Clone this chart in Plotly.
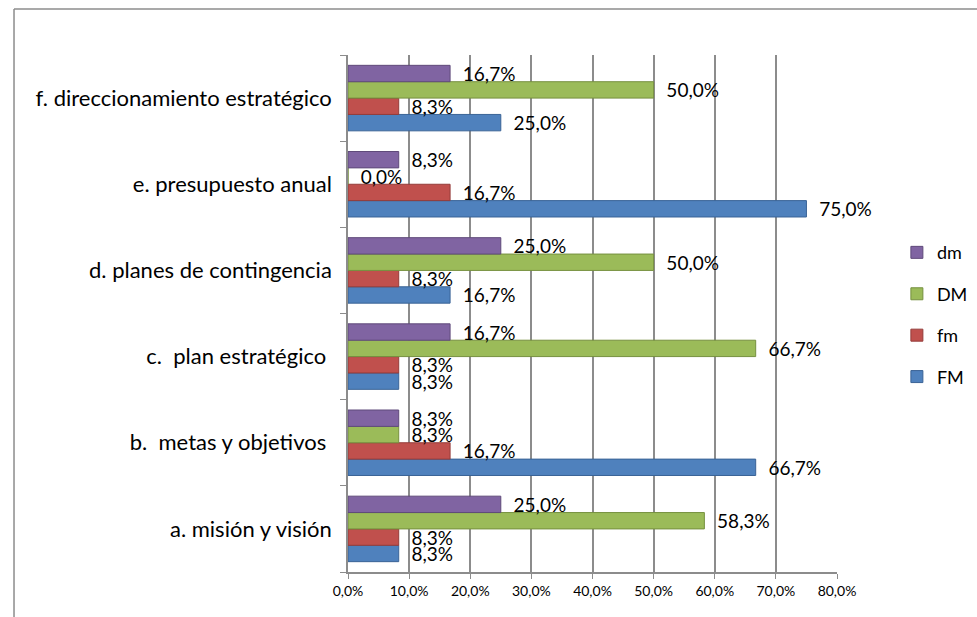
import plotly.graph_objects as go

# Survey results per planning item (percent of respondents)
categories = [
    "a. misión y visión",
    "b.  metas y objetivos ",
    "c.  plan estratégico ",
    "d. planes de contingencia",
    "e. presupuesto anual",
    "f. direccionamiento estratégico",
]
fm_upper = [8.3, 66.7, 8.3, 16.7, 75.0, 25.0]   # FM
fm_lower = [8.3, 16.7, 8.3, 8.3, 16.7, 8.3]     # fm
dm_upper = [58.3, 8.3, 66.7, 50.0, 0.0, 50.0]   # DM
dm_lower = [25.0, 8.3, 16.7, 25.0, 8.3, 16.7]   # dm

# name, values, fill, edge, legend rank (dm listed first in the legend)
series = [
    ("FM", fm_upper, "#4F81BD", "#3A6396", 4),
    ("fm", fm_lower, "#C0504D", "#943C3A", 3),
    ("DM", dm_upper, "#9BBB59", "#76903F", 2),
    ("dm", dm_lower, "#8064A2", "#5F4A7A", 1),
]

x_ticks = [0, 10, 20, 30, 40, 50, 60, 70, 80]
x_tick_text = [f"{v:.1f}%".replace(".", ",") for v in x_ticks]

FONT = "Lato, 'Open Sans', sans-serif"

fig = go.Figure()
for name, vals, color, edge, rank in series:
    fig.add_trace(go.Bar(
        name=name,
        y=categories,
        x=vals,
        orientation="h",
        legendgroup=name,
        legendrank=rank,
        marker=dict(color=color, line=dict(color=edge, width=1)),
        text=[f"{v:.1f}%".replace(".", ",") for v in vals],
        texttemplate="  %{text}",
        textposition="outside",
        constraintext="none",
        textfont=dict(family=FONT, size=19, color="#000000"),
        cliponaxis=False,
    ))

fig.update_layout(
    width=977,
    height=617,
    barmode="group",
    bargap=0.24,
    bargroupgap=0,
    plot_bgcolor="white",
    paper_bgcolor="white",
    margin=dict(l=348, r=140, t=55, b=45, autoexpand=False),
    font=dict(family=FONT, size=19, color="#000000"),
    legend=dict(
        xref="container", yref="container",
        x=0.918, y=0.49, xanchor="left", yanchor="middle",
        traceorder="grouped",
        tracegroupgap=15,
        font=dict(family=FONT, size=18),
        itemwidth=30,
    ),
    xaxis=dict(
        range=[0, 80],
        tickvals=x_ticks,
        ticktext=x_tick_text,
        tickfont=dict(family=FONT, size=14),
        showgrid=True,
        gridcolor="#8C8C8C",
        gridwidth=1.5,
        showline=True,
        linecolor="#8C8C8C",
        linewidth=1.5,
        ticks="outside",
        tickcolor="#8C8C8C",
        ticklen=5,
        zeroline=False,
        fixedrange=True,
    ),
    yaxis=dict(
        categoryorder="array",
        categoryarray=categories,
        tickson="boundaries",
        ticks="outside",
        ticklen=6,
        tickcolor="#8C8C8C",
        showline=True,
        linecolor="#8C8C8C",
        linewidth=1.5,
        showgrid=False,
        tickfont=dict(family=FONT, size=22),
        ticklabelstandoff=10,
        fixedrange=True,
    ),
    shapes=[
        # outer chart frame (top and left edges)
        dict(type="line", xref="paper", yref="paper",
             x0=-0.683, x1=1.3, y0=1.089, y1=1.089,
             line=dict(color="#8C8C8C", width=1.5)),
        dict(type="line", xref="paper", yref="paper",
             x0=-0.683, x1=-0.683, y0=1.089, y1=-0.2,
             line=dict(color="#8C8C8C", width=1.5)),
    ],
)

fig.write_html("out.html")
